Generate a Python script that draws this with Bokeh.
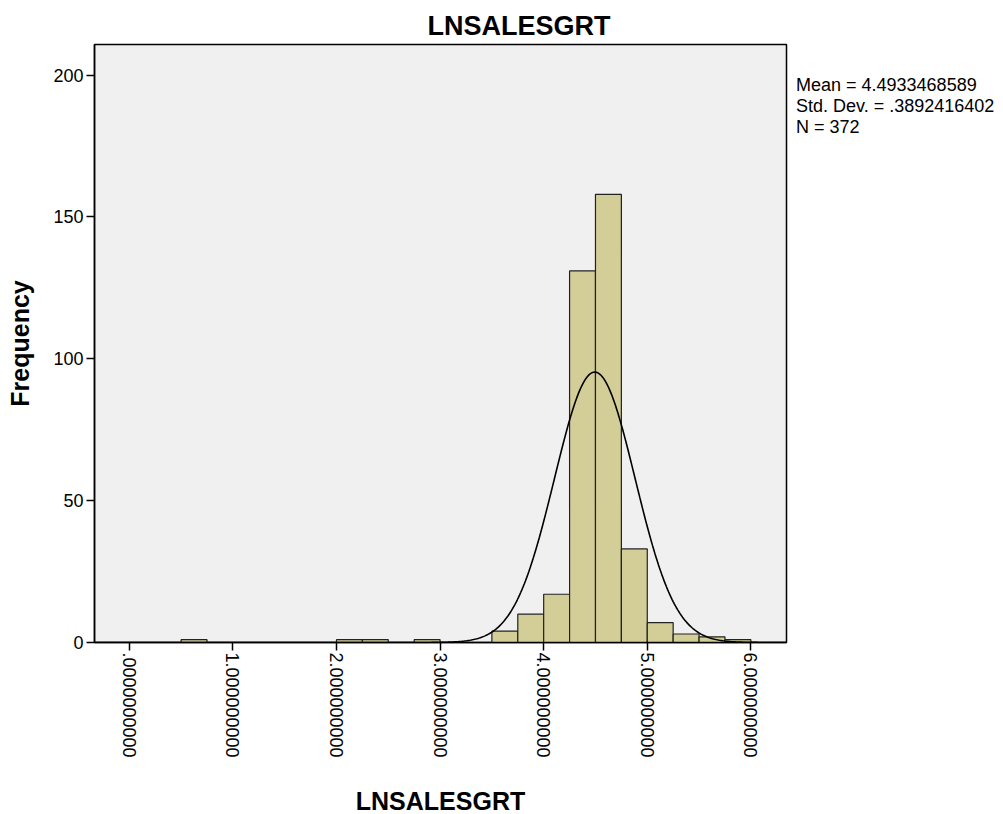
import math
import numpy as np
from bokeh.plotting import figure
from bokeh.models import Range1d, FixedTicker, ColumnDataSource, Legend, LegendItem
from bokeh.embed import file_html
from bokeh.resources import INLINE

# Histogram of LNSALESGRT (bin width 0.25)
bin_width = 0.25
bin_starts = [0.50, 2.00, 2.25, 2.75, 3.50, 3.75, 4.00, 4.25, 4.50, 4.75, 5.00, 5.25, 5.50, 5.75]
counts = [1, 1, 1, 1, 4, 10, 17, 131, 158, 33, 7, 3, 2, 1]

# Summary statistics
mean_val = 4.4933468589
std_val = 0.3892416402
n_obs = 372
stats_lines = ["Mean = 4.4933468589", "Std. Dev. = .3892416402", "N = 372"]

x_ticks = [0, 1, 2, 3, 4, 5, 6]
x_tick_labels = [".0000000000", "1.000000000", "2.000000000", "3.000000000",
                 "4.000000000", "5.000000000", "6.000000000"]
y_ticks = [0, 50, 100, 150, 200]

FONT = "Liberation Sans"
BAR_FILL = "#d3ce97"
PLOT_BG = "#f0f0f0"

x_lo, x_hi = -0.336, 6.344
y_lo, y_hi = 0, 210.8

p = figure(
    frame_width=692, frame_height=598,
    min_border_left=94, min_border_right=217, min_border_top=44, min_border_bottom=172,
    x_range=Range1d(x_lo, x_hi), y_range=Range1d(y_lo, y_hi),
    output_backend="svg", toolbar_location=None,
    background_fill_color=PLOT_BG, border_fill_color="white",
    title="LNSALESGRT",
)
p.grid.visible = False
p.outline_line_color = "black"
p.outline_line_width = 1.5

# Chart title
p.title.text_font = FONT
p.title.text_font_style = "bold"
p.title.text_font_size = "27px"
p.title.text_color = "black"
p.title.align = "left"
p.title.offset = 333
p.title.standoff = 7

src = ColumnDataSource(dict(
    left=bin_starts,
    right=[b + bin_width for b in bin_starts],
    top=counts,
    bottom=[0] * len(counts),
))
p.quad(left="left", right="right", top="top", bottom="bottom", source=src,
       fill_color=BAR_FILL, line_color="#222222", line_width=1.2)

# Fitted normal curve scaled to counts
xs = np.linspace(x_lo, x_hi, 600)
ys = n_obs * bin_width * np.exp(-0.5 * ((xs - mean_val) / std_val) ** 2) / (std_val * math.sqrt(2 * math.pi))
p.line(xs, ys, line_color="black", line_width=1.6)

# Axes
p.xaxis.ticker = FixedTicker(ticks=x_ticks)
p.xaxis.major_label_overrides = {t: lab for t, lab in zip(x_ticks, x_tick_labels)}
p.xaxis.major_label_orientation = -math.pi / 2
p.yaxis.ticker = FixedTicker(ticks=y_ticks)
for ax in (p.xaxis, p.yaxis):
    ax.axis_line_color = "black"
    ax.axis_line_width = 1.5
    ax.major_tick_line_color = "black"
    ax.major_tick_line_width = 1.5
    ax.major_tick_out = 8
    ax.major_tick_in = 0
    ax.minor_tick_out = 0
    ax.minor_tick_in = 0
    ax.major_label_text_font = FONT
    ax.major_label_text_font_size = "18px"
    ax.major_label_text_color = "black"
    ax.axis_label_text_font = FONT
    ax.axis_label_text_font_style = "bold"
    ax.axis_label_text_font_size = "25px"
    ax.axis_label_text_color = "black"

p.xaxis.major_label_standoff = 2
p.yaxis.major_label_standoff = 3
p.xaxis.axis_label = "LNSALESGRT"
p.xaxis.axis_label_standoff = 26
p.yaxis.axis_label = "Frequency"
p.yaxis.axis_label_standoff = 16

# Statistics block on the right: one text-only legend entry spanning three lines
blank = p.line([], [], line_alpha=0)
stats = Legend(
    items=[LegendItem(label="\n".join(stats_lines), renderers=[blank])],
    location=(0, 504),
    orientation="vertical",
    glyph_width=4, glyph_height=12, label_height=12,
    label_standoff=6, spacing=0, padding=0, margin=0,
    label_text_font=FONT, label_text_font_size="18px", label_text_color="black",
    border_line_color=None, background_fill_alpha=0,
    click_policy="none",
)
p.add_layout(stats, "right")

open("out.html", "w").write(file_html(p, INLINE))
